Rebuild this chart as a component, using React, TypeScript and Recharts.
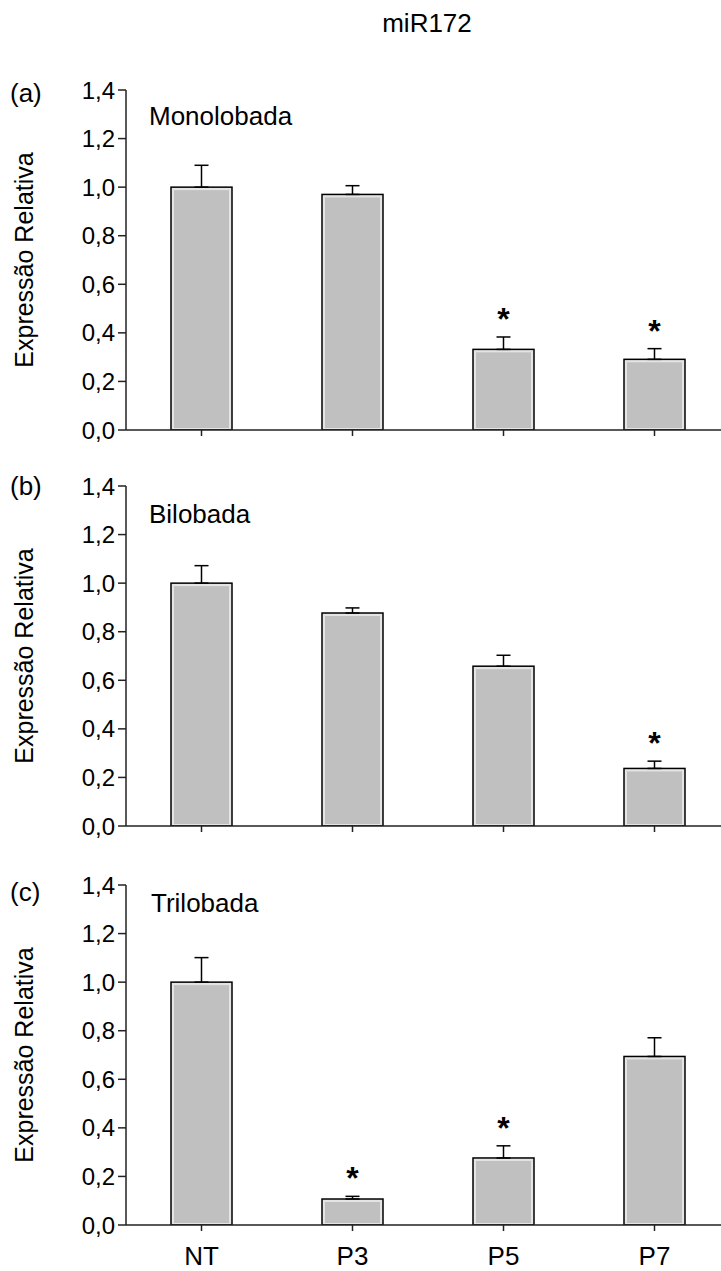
import React from 'react';
import { ComposedChart, Bar, ErrorBar, Line, XAxis, YAxis } from 'recharts';

const categories = ['NT', 'P3', 'P5', 'P7'];
const yTicks = [0, 0.2, 0.4, 0.6, 0.8, 1.0, 1.2, 1.4];

// (a) Monolobada
const monoMean = [1.0, 0.97, 0.332, 0.291];
const monoErr = [0.09, 0.036, 0.051, 0.044];
const monoSig = [false, false, true, true];

// (b) Bilobada
const biMean = [1.0, 0.877, 0.658, 0.237];
const biErr = [0.072, 0.021, 0.045, 0.03];
const biSig = [false, false, false, true];

// (c) Trilobada
const triMean = [1.0, 0.107, 0.276, 0.694];
const triErr = [0.101, 0.011, 0.05, 0.077];
const triSig = [false, true, true, false];

const FONT = 'Arial, "Liberation Sans", sans-serif';

function buildRows(means: number[], errs: number[], sig: boolean[]) {
  return categories.map((name, i) => ({
    name,
    mean: means[i],
    err: [0, errs[i]],
    star: sig[i] ? means[i] + errs[i] : null,
  }));
}

const BarShape = (props: any) => {
  const { x, y, width, height } = props;
  if (height == null || height <= 0) return <g />;
  return (
    <g>
      <rect x={x} y={y} width={width} height={height} fill="#e4e4e4" stroke="#000" strokeWidth={1.5} />
      <rect x={x + 3} y={y + 3} width={Math.max(0, width - 6)} height={Math.max(0, height - 5)} fill="#c0c0c0" />
    </g>
  );
};

const renderStar = (props: any) => {
  const { cx, cy, index } = props;
  if (cy == null || isNaN(cy)) return <g key={`st${index}`} />;
  return (
    <text key={`st${index}`} x={cx} y={cy - 7} textAnchor="middle" fontSize={32} fontWeight="bold" fill="#000" fontFamily={FONT}>
      *
    </text>
  );
};

const yLabel = (props: any) => {
  const vb = props.viewBox || {};
  const cy = vb.y + vb.height / 2;
  return (
    <text x={33} y={cy} transform={`rotate(-90, 33, ${cy})`} textAnchor="middle" fontSize={25} fill="#000" fontFamily={FONT}>
      Expressão Relativa
    </text>
  );
};

const emptyTick = () => <g />;

interface PanelProps {
  rows: any[];
  top: number;
  letter: string;
  letterTop: number;
  name: string;
  nameTop: number;
  nameLeft: number;
  showLabels: boolean;
}

function Panel({ rows, top, letter, letterTop, name, nameTop, nameLeft, showLabels }: PanelProps) {
  const textStyle: React.CSSProperties = {
    position: 'absolute',
    fontSize: 26,
    lineHeight: '26px',
    fontFamily: FONT,
    whiteSpace: 'nowrap',
    color: '#000',
  };
  return (
    <div style={{ position: 'absolute', left: 0, top, width: 740, height: 420 }}>
      <ComposedChart width={740} height={420} data={rows} margin={{ top: 20, right: 10, bottom: 20, left: 0 }} barSize={61}>
        <XAxis
          dataKey="name"
          height={40}
          axisLine={{ stroke: '#222', strokeWidth: 1.5 }}
          tickLine={{ stroke: '#222', strokeWidth: 1.5 }}
          tickSize={6}
          tickMargin={16}
          tick={showLabels ? { fontSize: 26, fill: '#000', fontFamily: FONT } : emptyTick}
        />
        <YAxis
          domain={[0, 1.4]}
          ticks={yTicks}
          interval={0}
          allowDataOverflow
          width={126}
          axisLine={{ stroke: '#222', strokeWidth: 1.5 }}
          tickLine={{ stroke: '#222', strokeWidth: 1.5 }}
          tickSize={8}
          tickMargin={3}
          tick={{ fontSize: 24, fill: '#000', fontFamily: FONT }}
          tickFormatter={(v: number) => v.toFixed(1).replace('.', ',')}
          label={{ value: 'Expressão Relativa', content: yLabel }}
        />
        <Bar dataKey="mean" shape={BarShape} isAnimationActive={false}>
          <ErrorBar dataKey="err" direction="y" width={7} stroke="#000" strokeWidth={1.5} />
        </Bar>
        <Line
          dataKey="star"
          stroke="none"
          dot={renderStar}
          activeDot={false}
          legendType="none"
          isAnimationActive={false}
        />
      </ComposedChart>
      <div style={{ ...textStyle, left: 10, top: letterTop }}>{letter}</div>
      <div style={{ ...textStyle, left: nameLeft, top: nameTop }}>{name}</div>
    </div>
  );
}

export default function App() {
  const mono = buildRows(monoMean, monoErr, monoSig);
  const bi = buildRows(biMean, biErr, biSig);
  const tri = buildRows(triMean, triErr, triSig);
  return (
    <div
      style={{
        position: 'absolute',
        left: 0,
        top: 0,
        width: 721,
        height: 1271,
        overflow: 'hidden',
        background: '#fff',
        fontFamily: FONT,
      }}
    >
      <div
        style={{
          position: 'absolute',
          left: 327,
          top: 10,
          width: 200,
          textAlign: 'center',
          fontSize: 26,
          lineHeight: '26px',
          fontFamily: FONT,
        }}
      >
        miR172
      </div>
      <Panel rows={mono} top={70} letter="(a)" letterTop={10} name="Monolobada" nameTop={33} nameLeft={149} showLabels={false} />
      <Panel rows={bi} top={466} letter="(b)" letterTop={7} name="Bilobada" nameTop={35} nameLeft={149} showLabels={false} />
      <Panel rows={tri} top={865} letter="(c)" letterTop={14} name="Trilobada" nameTop={25} nameLeft={151} showLabels={true} />
    </div>
  );
}
